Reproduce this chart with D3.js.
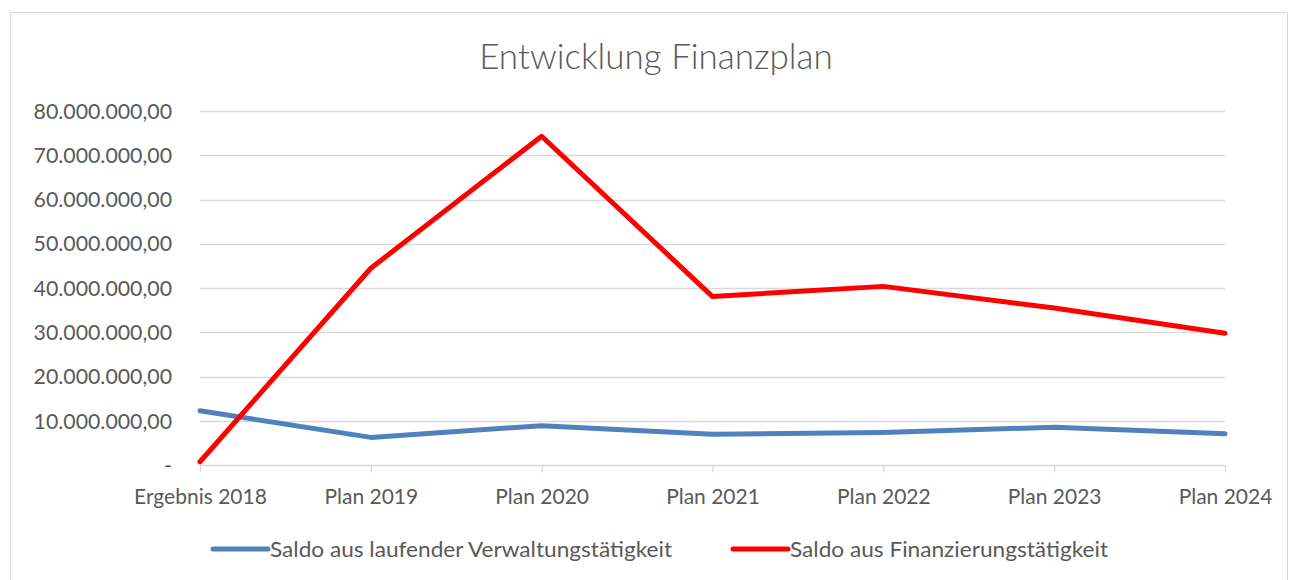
<!DOCTYPE html>
<html><head><meta charset="utf-8">
<script src="https://cdn.jsdelivr.net/npm/d3@7"></script>
<style>body{margin:0;background:#fff}svg{display:block}text{font-family:Lato,"Open Sans",sans-serif}</style>
</head><body><svg id="c" width="1290" height="580"></svg>
<script>
const categories = ["Ergebnis 2018","Plan 2019","Plan 2020","Plan 2021","Plan 2022","Plan 2023","Plan 2024"];
const verwaltung = [12300000, 6300000, 8950000, 7000000, 7400000, 8600000, 7100000];
const finanzierung = [800000, 44500000, 74300000, 38100000, 40400000, 35500000, 29800000];
const yTicks = [0,10000000,20000000,30000000,40000000,50000000,60000000,70000000,80000000];
const seriesNames = ["Saldo aus laufender Verwaltungstätigkeit","Saldo aus Finanzierungstätigkeit"];
const seriesColors = ["#4f81bd","#ff0000"];

const svg = d3.select("#c");
svg.append("rect").attr("x",10.5).attr("y",12.5).attr("width",1277).attr("height",580).attr("fill","#fff").attr("stroke","#d9d9d9");

const x = d3.scalePoint().domain(categories).range([200,1225]);
const y = d3.scaleLinear().domain([0,80000000]).range([465.3,111]);

const fmt = v => v===0 ? "-" : d3.formatLocale({decimal:",",thousands:".",grouping:[3],currency:["",""]}).format(",.2f")(v);

// gridlines
svg.append("g").selectAll("line").data(yTicks.filter(d=>d>0)).join("line")
  .attr("x1",200).attr("x2",1225).attr("y1",d=>Math.round(y(d))+0.5).attr("y2",d=>Math.round(y(d))+0.5)
  .attr("stroke","#d9d9d9").attr("stroke-width",1.3);

// y labels
svg.append("g").selectAll("text").data(yTicks).join("text")
  .attr("x",172).attr("y",d=>y(d)+7.5).attr("text-anchor","end")
  .attr("fill","#595959").attr("font-size",21.3).text(d=>fmt(d));

// x axis
const xa = svg.append("g").attr("transform",`translate(0,${Math.round(y(0))+0.5})`)
  .call(d3.axisBottom(x).tickSize(7).tickPadding(17));
xa.select(".domain").attr("stroke","#d9d9d9").attr("stroke-width",1.3).attr("d","M200,0H1225");
xa.selectAll(".tick line").attr("stroke","#d9d9d9").attr("stroke-width",1.3);
xa.selectAll(".tick text").attr("fill","#595959").attr("font-size",21).attr("font-family","Lato");

// lines
const line = d3.line().x((d,i)=>x(categories[i])).y(d=>y(d));
[verwaltung, finanzierung].forEach((s,i)=>{
  svg.append("path").attr("d",line(s)).attr("fill","none").attr("stroke",seriesColors[i])
    .attr("stroke-width",5).attr("stroke-linejoin","round").attr("stroke-linecap","round");
});

// title
svg.append("text").attr("x",656).attr("y",69).attr("text-anchor","middle")
  .attr("fill","#595959").attr("font-size",35).attr("font-weight",300).text("Entwicklung Finanzplan");

// legend
const legX = [213, 733];
const legW = [402, 318];
seriesNames.forEach((n,i)=>{
  svg.append("line").attr("x1",legX[i]).attr("x2",legX[i]+55).attr("y1",549).attr("y2",549)
    .attr("stroke",seriesColors[i]).attr("stroke-width",5).attr("stroke-linecap","round");
  svg.append("text").attr("x",legX[i]+57).attr("y",557).attr("fill","#595959").attr("font-size",21)
    .attr("textLength",legW[i]).attr("lengthAdjust","spacingAndGlyphs").text(n);
});
</script></body></html>
